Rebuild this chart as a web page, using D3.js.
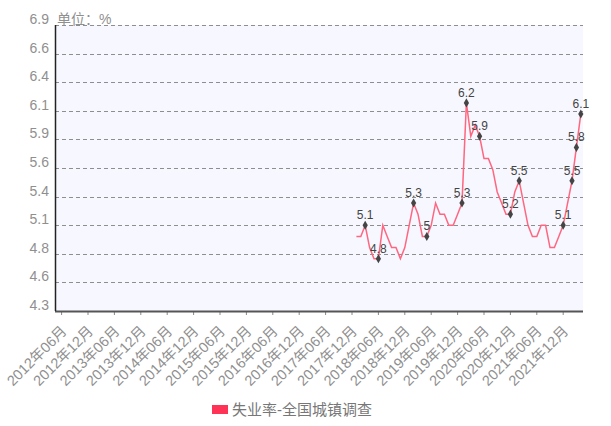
<!DOCTYPE html>
<html>
<head>
<meta charset="utf-8">
<script src="https://cdn.jsdelivr.net/npm/d3@7/dist/d3.min.js"></script>
<style>
  body { margin: 0; background: #fff; }
  svg { display: block; font-family: "Liberation Sans", Arial, "Noto Sans CJK SC", sans-serif; }
</style>
</head>
<body>
<svg id="chart" width="611" height="426"></svg>
<script>
// monthly categories on the x axis
var firstMonth = new Date(2012, 4, 1),
    lastMonth = new Date(2022, 3, 1);

// surveyed urban unemployment rate, from 2018年01月 on
var seriesStart = '2018年01月';
var rate = [
    5.0, 5.0, 5.1, 4.9, 4.8, 4.8, 5.1, 5.0, 4.9, 4.9, 4.8, 4.9,
    5.1, 5.3, 5.2, 5.0, 5.0, 5.1, 5.3, 5.2, 5.2, 5.1, 5.1, 5.2,
    5.3, 6.2, 5.9, 6.0, 5.9, 5.7, 5.7, 5.6, 5.4, 5.3, 5.2, 5.2,
    5.4, 5.5, 5.3, 5.1, 5.0, 5.0, 5.1, 5.1, 4.9, 4.9, 5.0, 5.1,
    5.3, 5.5, 5.8, 6.1
];

// months that carry a marker and a value label
var labelled = [
    '2018年03月', '2018年06月', '2019年02月', '2019年05月', '2020年01月',
    '2020年02月', '2020年05月', '2020年12月', '2021年02月', '2021年12月',
    '2022年02月', '2022年03月', '2022年04月'
];

var yTicks = [4.33, 4.587, 4.844, 5.101, 5.358, 5.615, 5.872, 6.129, 6.386, 6.643, 6.9];

var seriesName = '失业率-全国城镇调查',
    unitText = '单位：%';

var fmtMonth = d3.timeFormat('%Y年%m月');
var months = d3.timeMonth.range(firstMonth, d3.timeMonth.offset(lastMonth, 1)).map(fmtMonth);

var startIndex = months.indexOf(seriesStart);
var points = rate.map(function(v, i) {
    return {month: months[startIndex + i], value: v};
});

var margin = {l: 55, r: 28, t: 25, b: 115},
    width = 611 - margin.l - margin.r,
    height = 426 - margin.t - margin.b;

var svg = d3.select('#chart');
var g = svg.append('g')
    .attr('transform', 'translate(' + margin.l + ',' + margin.t + ')');

var x = d3.scaleBand()
    .domain(months)
    .range([0, width]);

var y = d3.scaleLinear()
    .domain([yTicks[0], yTicks[yTicks.length - 1]])
    .range([height, 0]);

function cx(m) { return x(m) + x.bandwidth() / 2; }

g.append('rect')
    .attr('width', width)
    .attr('height', height)
    .attr('fill', '#f7f8ff');

// dashed grid
g.selectAll('line.grid')
    .data(yTicks.slice(1))
    .enter().append('line')
    .attr('class', 'grid')
    .attr('x1', 0)
    .attr('x2', width)
    .attr('y1', function(d) { return Math.round(y(d)) + 0.5; })
    .attr('y2', function(d) { return Math.round(y(d)) + 0.5; })
    .attr('stroke', '#8e8e8e')
    .attr('stroke-dasharray', '4,3');

// y labels
g.selectAll('text.ylab')
    .data(yTicks)
    .enter().append('text')
    .attr('class', 'ylab')
    .attr('x', -6)
    .attr('y', function(d) { return y(d) - 1; })
    .attr('text-anchor', 'end')
    .attr('font-size', 14)
    .attr('fill', '#8f8f8f')
    .text(function(d) { return d.toFixed(1); });

g.append('text')
    .attr('x', 2)
    .attr('y', -1)
    .attr('font-size', 14)
    .attr('fill', '#8f8f8f')
    .text(unitText);

// x ticks and rotated labels
var tickMonths = months.filter(function(m) {
    return /(06|12)月$/.test(m);
});

g.selectAll('line.xtick')
    .data(tickMonths)
    .enter().append('line')
    .attr('class', 'xtick')
    .attr('x1', function(d) { return cx(d); })
    .attr('x2', function(d) { return cx(d); })
    .attr('y1', height)
    .attr('y2', height + 4)
    .attr('stroke', '#888');

g.selectAll('text.xlab')
    .data(tickMonths)
    .enter().append('text')
    .attr('class', 'xlab')
    .attr('transform', function(d) {
        return 'translate(' + (cx(d) + 6) + ',' + (height + 21) + ') rotate(-45)';
    })
    .attr('text-anchor', 'end')
    .attr('font-size', 14.5)
    .attr('fill', '#8f8f8f')
    .text(function(d) { return d; });

// axes lines
g.append('line')
    .attr('x1', 0).attr('x2', width)
    .attr('y1', height + 0.5).attr('y2', height + 0.5)
    .attr('stroke', '#555')
    .attr('stroke-width', 2);

g.append('line')
    .attr('x1', 0.5).attr('x2', 0.5)
    .attr('y1', 0).attr('y2', height)
    .attr('stroke', '#222')
    .attr('stroke-width', 1.5);

// series
var line = d3.line()
    .x(function(d) { return cx(d.month); })
    .y(function(d) { return y(d.value); });

g.append('path')
    .datum(points)
    .attr('d', line)
    .attr('fill', 'none')
    .attr('stroke', '#ff6680')
    .attr('stroke-width', 1.5);

var marked = points.filter(function(d) { return labelled.indexOf(d.month) >= 0; });

g.selectAll('path.mark')
    .data(marked)
    .enter().append('path')
    .attr('class', 'mark')
    .attr('d', d3.symbol().type(d3.symbolDiamond).size(24))
    .attr('transform', function(d) {
        return 'translate(' + cx(d.month) + ',' + y(d.value) + ')';
    })
    .attr('fill', '#444');

g.selectAll('text.val')
    .data(marked)
    .enter().append('text')
    .attr('class', 'val')
    .attr('x', function(d) { return cx(d.month); })
    .attr('y', function(d) { return y(d.value) - 6; })
    .attr('text-anchor', 'middle')
    .attr('font-size', 12)
    .attr('fill', '#444')
    .text(function(d) { return d.value; });

// legend
var legend = svg.append('g')
    .attr('transform', 'translate(212,405)');

legend.append('rect')
    .attr('width', 16)
    .attr('height', 9)
    .attr('fill', '#ff3355');

legend.append('text')
    .attr('x', 20)
    .attr('y', 10)
    .attr('font-size', 15)
    .attr('fill', '#777')
    .text(seriesName);
</script>
</body>
</html>
